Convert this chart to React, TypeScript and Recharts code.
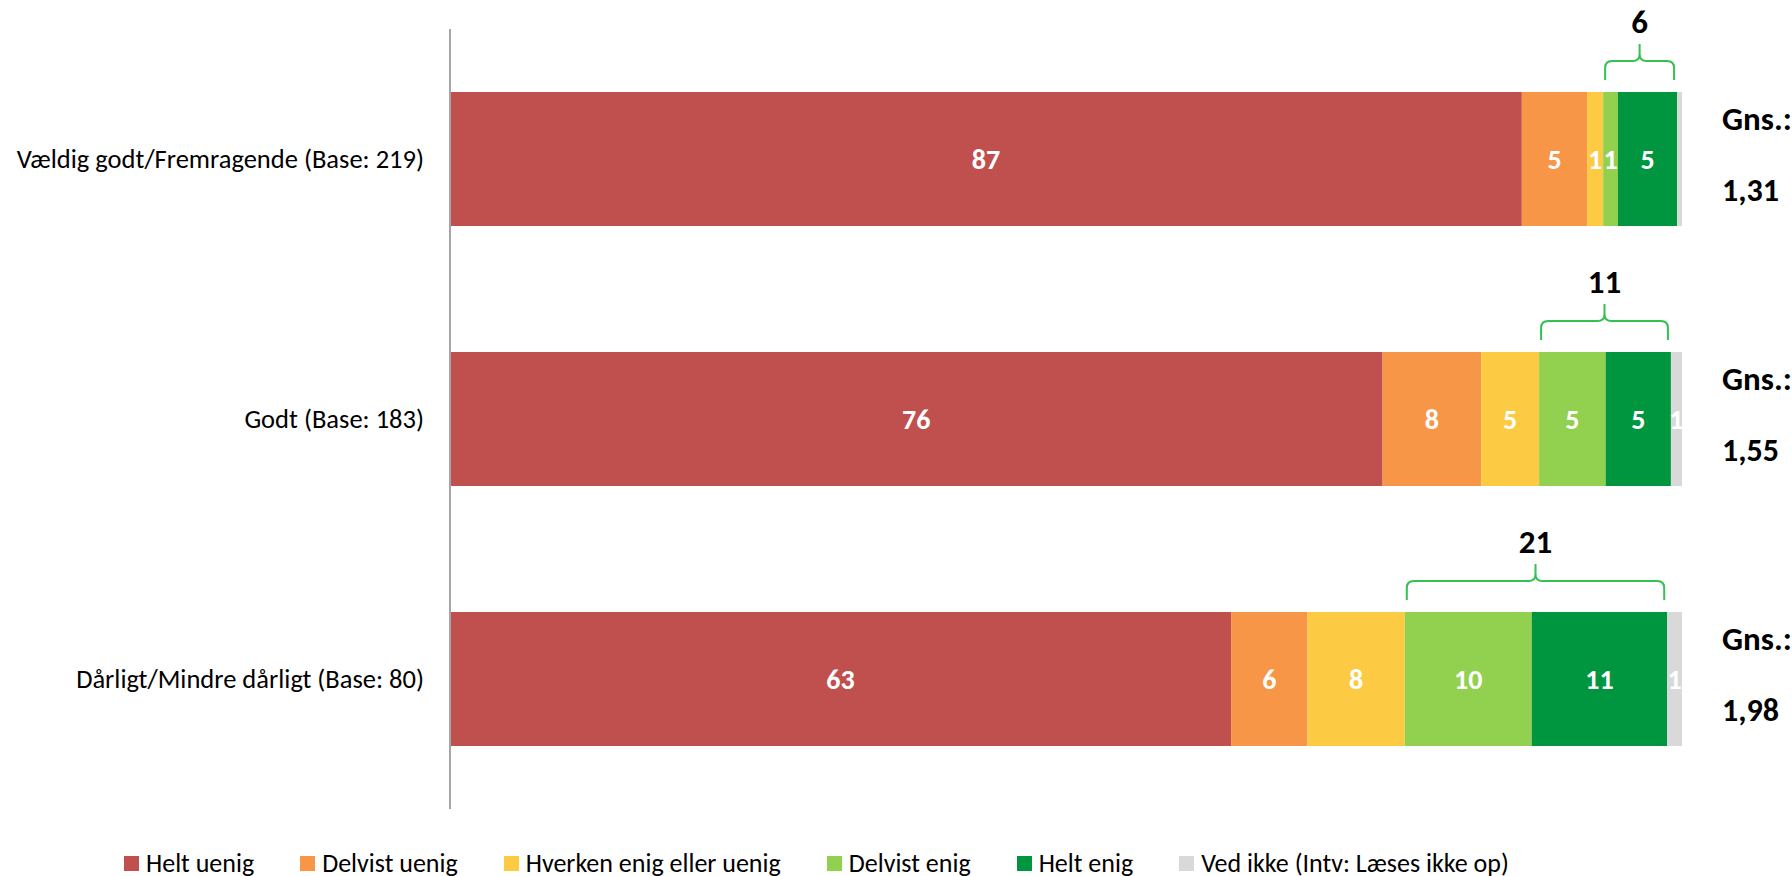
import { BarChart, Bar, XAxis, YAxis, LabelList } from 'recharts';

const FONT = "Carlito, Calibri, 'Open Sans', sans-serif";

const categories = [
  'Vældig godt/Fremragende (Base: 219)',
  'Godt (Base: 183)',
  'Dårligt/Mindre dårligt (Base: 80)',
];
const heltUenig = [87.0, 75.7, 63.4];
const delvistUenig = [5.3, 8.0, 6.2];
const hverken = [1.3, 4.7, 7.9];
const delvistEnig = [1.2, 5.4, 10.3];
const heltEnig = [4.8, 5.3, 11.0];
const vedIkke = [0.4, 0.9, 1.2];
const enigTotals = ['6', '11', '21'];
const averages = ['1,31', '1,55', '1,98'];

const series = [
  { key: 'heltUenig', name: 'Helt uenig', color: '#C0504D' },
  { key: 'delvistUenig', name: 'Delvist uenig', color: '#F79646' },
  { key: 'hverken', name: 'Hverken enig eller uenig', color: '#FCCB43' },
  { key: 'delvistEnig', name: 'Delvist enig', color: '#92D050' },
  { key: 'heltEnig', name: 'Helt enig', color: '#00953F' },
  { key: 'vedIkke', name: 'Ved ikke (Intv: Læses ikke op)', color: '#D9D9D9' },
];

const data = categories.map((name, i) => ({
  name,
  heltUenig: heltUenig[i],
  delvistUenig: delvistUenig[i],
  hverken: hverken[i],
  delvistEnig: delvistEnig[i],
  heltEnig: heltEnig[i],
  vedIkke: vedIkke[i],
  total: enigTotals[i],
  gns: averages[i],
}));

const BRACE = '#33C152';

// dark green segment + the brace over both green segments + the average on the right
function HeltEnigShape(props: any) {
  const { x, y, width, height, fill, payload } = props;
  const unit = width / payload.heltEnig;
  const left = x - payload.delvistEnig * unit + 2;
  const right = x + width - 3;
  const mid = (left + right) / 2;
  const yEnd = y - 12;
  const yH = y - 31;
  const yTip = y - 48;
  const r = 7;
  const barEnd = x + width + payload.vedIkke * unit;
  const cy = y + height / 2;
  return (
    <g>
      <rect x={x} y={y} width={width} height={height} fill={fill} />
      <path
        d={`M${left},${yEnd} L${left},${yH + r} Q${left},${yH} ${left + r},${yH} L${mid - r},${yH} Q${mid},${yH} ${mid},${yH - r} L${mid},${yTip}
            M${right},${yEnd} L${right},${yH + r} Q${right},${yH} ${right - r},${yH} L${mid + r},${yH} Q${mid},${yH} ${mid},${yH - r}`}
        fill="none"
        stroke={BRACE}
        strokeWidth={2}
      />
      <text x={mid} y={y - 59} textAnchor="middle" fontFamily={FONT} fontSize={33} fontWeight="bold" fill="#000">
        {payload.total}
      </text>
      <text x={barEnd + 40} y={cy - 29} fontFamily={FONT} fontSize={33} fontWeight="bold" fill="#000">
        Gns.:
      </text>
      <text x={barEnd + 40} y={cy + 42} fontFamily={FONT} fontSize={32} fontWeight="bold" fill="#000">
        {payload.gns}
      </text>
    </g>
  );
}

const fmt = (v: any) => {
  const n = Math.round(Number(v));
  return n === 0 ? '' : String(n);
};

export default function App() {
  return (
    <div style={{ position: 'absolute', left: 0, top: 0, width: 1792, height: 876, background: '#fff', fontFamily: FONT }}>
      <BarChart
        width={1792}
        height={876}
        data={data}
        layout="vertical"
        margin={{ top: 29, right: 110, bottom: 67, left: 0 }}
      >
        <XAxis type="number" domain={[0, 100]} hide />
        <YAxis
          type="category"
          dataKey="name"
          width={450}
          tickLine={false}
          axisLine={{ stroke: '#A6A6A6', strokeWidth: 2 }}
          tickMargin={20}
          tick={{ fill: '#000', fontSize: 26.5, fontFamily: FONT }}
        />
        {series.map((s) => (
          <Bar
            key={s.key}
            dataKey={s.key}
            name={s.name}
            stackId="a"
            fill={s.color}
            barSize={134}
            isAnimationActive={false}
            shape={s.key === 'heltEnig' ? HeltEnigShape : undefined}
          >
            <LabelList
              dataKey={s.key}
              position="center"
              formatter={fmt}
              fill="#fff"
              fontSize={28}
              fontWeight="bold"
              fontFamily={FONT}
            />
          </Bar>
        ))}
      </BarChart>
      <div
        style={{
          position: 'absolute',
          left: 124,
          top: 848,
          display: 'flex',
          alignItems: 'center',
          fontSize: 26,
          color: '#000',
          lineHeight: '30px',
          whiteSpace: 'nowrap',
        }}
      >
        {series.map((s) => (
          <div key={s.key} style={{ display: 'flex', alignItems: 'center', marginRight: 46 }}>
            <span style={{ display: 'inline-block', width: 15, height: 15, background: s.color, marginRight: 7 }} />
            <span>{s.name}</span>
          </div>
        ))}
      </div>
    </div>
  );
}
